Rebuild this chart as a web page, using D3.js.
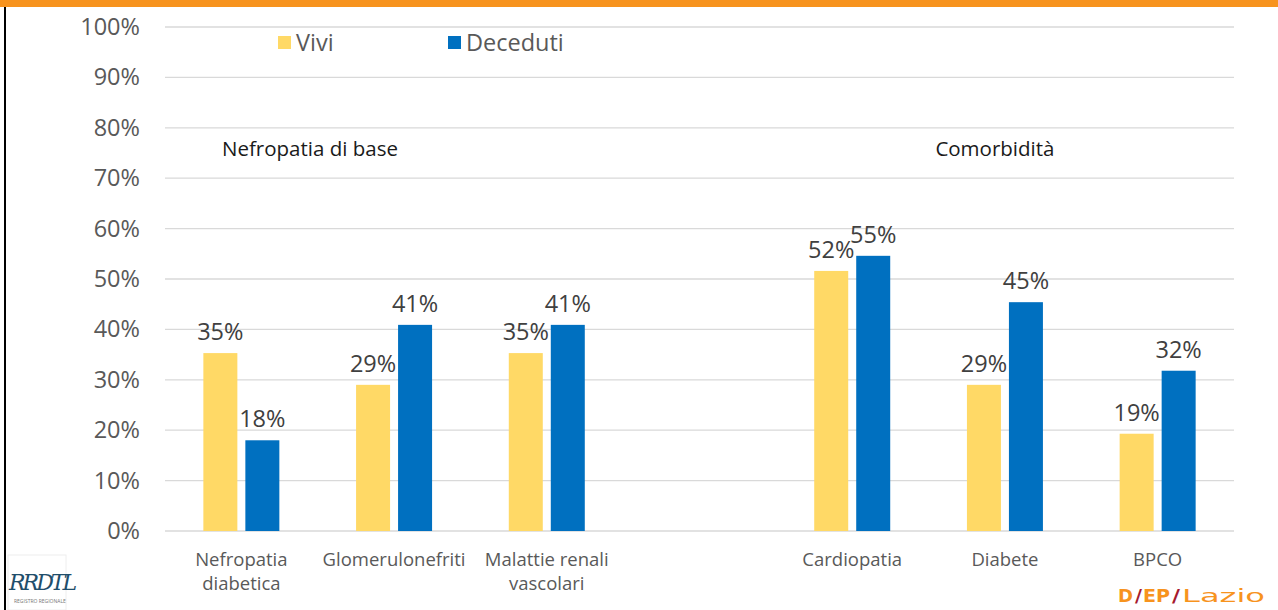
<!DOCTYPE html>
<meta charset="utf-8">
<style>
body { margin: 0; background: #fff; }
svg { font-family: "Open Sans", sans-serif; }
.grid line { stroke: #d9d9d9; stroke-width: 1.3; }
.ytick { fill: #595959; font-size: 23.5px; }
.xlab { fill: #595959; font-size: 18.5px; }
.vlab { fill: #404040; font-size: 23.5px; }
</style>
<body>
<script src="https://cdn.jsdelivr.net/npm/d3@7"></script>
<script>

var categories = [["Nefropatia", "diabetica"], ["Glomerulonefriti"], ["Malattie renali", "vascolari"], [""], ["Cardiopatia"], ["Diabete"], ["BPCO"]];
var vivi = [0.353, 0.29, 0.353, null, 0.516, 0.29, 0.193];
var deceduti = [0.18, 0.409, 0.409, null, 0.546, 0.454, 0.318];
var series = ["Vivi", "Deceduti"];
var colors = ["#ffd966", "#0070c0"];
var groupTitles = ["Nefropatia di base", "Comorbidità"];

var W = 1278, H = 610;
var svg = d3.select("body").append("svg").attr("width", W).attr("height", H);

// top orange band and left border
svg.append("rect").attr("x", 0).attr("y", 0).attr("width", W).attr("height", 7).attr("fill", "#f7931e");
svg.append("rect").attr("x", 4).attr("y", 7).attr("width", 2).attr("height", H - 7).attr("fill", "#000");

var x = d3.scaleBand().domain(d3.range(categories.length)).range([165, 1234]).paddingInner(0).paddingOuter(0);
var y = d3.scaleLinear().domain([0, 1]).range([531, 27]);

var ticks = d3.range(0, 1.01, 0.1);
var grid = svg.append("g").attr("class", "grid");
grid.selectAll("line").data(ticks).enter().append("line")
    .attr("x1", 165).attr("x2", 1234)
    .attr("y1", function(d) { return y(d); }).attr("y2", function(d) { return y(d); });

svg.selectAll(".ytick").data(ticks).enter().append("text")
    .attr("class", "ytick")
    .attr("x", 140).attr("y", function(d) { return y(d) + 8; })
    .attr("text-anchor", "end")
    .text(d3.format(".0%"));

var barW = 34, gap = 8;
var data = [vivi, deceduti];
data.forEach(function(vals, s) {
  var g = svg.append("g");
  var items = vals.map(function(v, i) { return {v: v, i: i}; }).filter(function(d) { return d.v != null; });
  g.selectAll("rect").data(items).enter().append("rect")
      .attr("x", function(d) { return x(d.i) + x.bandwidth() / 2 + (s === 0 ? -gap / 2 - barW : gap / 2); })
      .attr("y", function(d) { return y(d.v); })
      .attr("width", barW)
      .attr("height", function(d) { return y(0) - y(d.v); })
      .attr("fill", colors[s]);
  g.selectAll("text").data(items).enter().append("text")
      .attr("class", "vlab")
      .attr("x", function(d) { return x(d.i) + x.bandwidth() / 2 + (s === 0 ? -gap / 2 - barW / 2 : gap / 2 + barW / 2); })
      .attr("y", function(d) { return y(d.v) - 13; })
      .attr("text-anchor", "middle")
      .text(function(d) { return Math.round(d.v * 100) + "%"; });
});

// category labels
categories.forEach(function(lines, i) {
  var t = svg.append("text").attr("class", "xlab").attr("text-anchor", "middle");
  lines.forEach(function(l, k) {
    t.append("tspan").attr("x", x(i) + x.bandwidth() / 2).attr("y", 566 + k * 24).text(l);
  });
});

// group titles
svg.append("text").attr("x", x(0) + 57).attr("y", 156)
    .attr("font-size", 20.5).attr("fill", "#1a1a1a").text(groupTitles[0]);
svg.append("text").attr("x", x(5) + x.bandwidth() / 2 - 10).attr("y", 156).attr("text-anchor", "middle")
    .attr("font-size", 20.5).attr("fill", "#1a1a1a").text(groupTitles[1]);

// legend
var legX = [278, 448];
series.forEach(function(s, i) {
  svg.append("rect").attr("x", legX[i]).attr("y", 36).attr("width", 13).attr("height", 13).attr("fill", colors[i]);
  svg.append("text").attr("x", legX[i] + 18).attr("y", 51).attr("font-size", 23.5).attr("fill", "#595959").text(s);
});

// logos
var lg = svg.append("g");
lg.append("rect").attr("x", 8).attr("y", 555).attr("width", 58).attr("height", 55).attr("fill", "#fff").attr("stroke", "#eee");
lg.append("text").attr("x", 9).attr("y", 590).attr("font-family", "DejaVu Serif").attr("font-style", "italic")
    .attr("font-size", 22).attr("fill", "#1f4e6b").attr("letter-spacing", -3).text("RRDTL");
lg.append("text").attr("x", 14).attr("y", 603).attr("font-size", 5).attr("fill", "#777").text("REGISTRO REGIONALE");
var depParts = [
  {t: "D", x0: 1118, w: 15, c: "#f7931e", b: true},
  {t: "/", x0: 1135, w: 7, c: "#a6192e", b: true},
  {t: "EP", x0: 1143, w: 27, c: "#f7931e", b: true},
  {t: "/", x0: 1172, w: 8, c: "#a6192e", b: true},
  {t: "Lazio", x0: 1182, w: 83, c: "#f7931e", b: false}
];
depParts.forEach(function(p) {
  lg.append("text").attr("x", p.x0).attr("y", 602).attr("font-family", "DejaVu Sans")
      .attr("font-size", 17).attr("font-weight", p.b ? "bold" : "normal")
      .attr("fill", p.c).attr("textLength", p.w).attr("lengthAdjust", "spacingAndGlyphs").text(p.t);
});

</script>
</body>
